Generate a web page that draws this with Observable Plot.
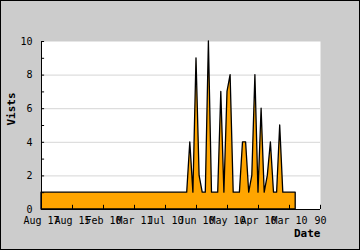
<!DOCTYPE html>
<html><head><meta charset="utf-8">
<script src="https://cdn.jsdelivr.net/npm/d3@7"></script>
<script src="https://cdn.jsdelivr.net/npm/@observablehq/plot@0.6"></script>
<style>
body{margin:0;background:#cccccc}
svg{display:block;outline:1px solid #000;outline-offset:-1px}
</style>
</head><body><div id="chart"></div>
<script>
const xTicks = [0, 10, 20, 30, 40, 50, 60, 70, 80, 90];
const xTickLabels = ["Aug 17", "Aug 15", "Feb 10", "Mar 11", "Jul 10", "Jun 10", "May 10", "Apr 10", "Mar 10", "90"];
const yTicks = [0, 1, 2, 3, 4, 5, 6, 7, 8, 9, 10];
const yLabelValues = [0, 2, 4, 6, 8, 10];
const gridY = [2, 4, 6, 8];
const visits = [
  1, 1, 1, 1, 1, 1, 1, 1, 1, 1,
  1, 1, 1, 1, 1, 1, 1, 1, 1, 1,
  1, 1, 1, 1, 1, 1, 1, 1, 1, 1,
  1, 1, 1, 1, 1, 1, 1, 1, 1, 1,
  1, 1, 1, 1, 1, 1, 1, 1, 4, 1,
  9, 2, 1, 1, 10, 1, 1, 1, 7, 1,
  7, 8, 1, 1, 1, 4, 4, 1, 2, 8,
  1, 6, 1, 2, 4, 1, 1, 5, 1, 1,
  1, 1, 1
];
const yTitle = "Vists";
const xTitle = "Date";

const data = visits.map((v, i) => ({i, v}));

const chart = Plot.plot({
  width: 360, height: 250,
  marginLeft: 41, marginRight: 40, marginTop: 41, marginBottom: 41,
  style: {background: "#cccccc", fontFamily: "DejaVu Sans Mono", fontSize: "10px", color: "#000", overflow: "visible"},
  x: {domain: [0, 90], axis: null},
  y: {domain: [0, 10], axis: null},
  marks: [
    Plot.frame({fill: "white", stroke: "none"}),
    Plot.ruleY(gridY, {stroke: "#d6d6d6"}),
    Plot.areaY(data, {x: "i", y: "v", fill: "#ffa500", stroke: "#000", strokeWidth: 1.3, curve: "linear"}),
    Plot.ruleX([0], {stroke: "#000"}),
    Plot.ruleY([0], {stroke: "#000"}),
    Plot.ruleY(yTicks, {x1: 0, x2: 1, stroke: "#000"}),
    Plot.ruleX(xTicks, {y1: 0, y2: 0.25, stroke: "#000"}),
    Plot.text(yLabelValues, {x: 0, y: d => d, text: d => String(d), textAnchor: "end", dx: -9}),
    Plot.text(xTicks, {x: d => d, y: 0, text: (d, i) => xTickLabels[i], dy: 11}),
    Plot.text([yTitle], {frameAnchor: "left", rotate: -90, dx: -30.5, fontWeight: "bold", fontSize: 11}),
    Plot.text([xTitle], {frameAnchor: "bottom-right", textAnchor: "end", dy: 27, fontWeight: "bold", fontSize: 11})
  ]
});
document.getElementById("chart").appendChild(chart);
</script>
</body></html>
